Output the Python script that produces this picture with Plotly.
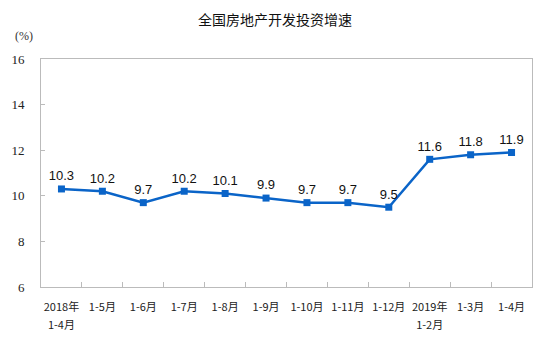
import plotly.graph_objects as go

categories = ["2018年 1-4月", "1-5月", "1-6月", "1-7月", "1-8月", "1-9月", "1-10月",
              "1-11月", "1-12月", "2019年 1-2月", "1-3月", "1-4月"]
label_line1 = ["2018年", "1-5月", "1-6月", "1-7月", "1-8月", "1-9月", "1-10月",
               "1-11月", "1-12月", "2019年", "1-3月", "1-4月"]
label_line2 = ["1-4月", "", "", "", "", "", "", "", "", "1-2月", "", ""]
values = [10.3, 10.2, 9.7, 10.2, 10.1, 9.9, 9.7, 9.7, 9.5, 11.6, 11.8, 11.9]
y_ticks = [6, 8, 10, 12, 14, 16]

n = len(categories)

fig = go.Figure()
fig.add_trace(go.Scatter(
    x=categories, y=values, mode="lines+markers+text",
    line=dict(color="#0a64c8", width=2.5),
    marker=dict(symbol="square", size=7, color="#0a64c8"),
    text=[f"{v:.1f}" for v in values], textposition="top center",
    textfont=dict(family="Liberation Sans, Arial", size=13, color="#111"),
    cliponaxis=False, hoverinfo="skip",
))
# invisible companion trace so the second-line label axis is drawn
fig.add_trace(go.Scatter(
    x=list(range(n)), y=values, xaxis="x2", yaxis="y",
    mode="markers", marker=dict(opacity=0), hoverinfo="skip", showlegend=False,
))

tick_font = dict(family="Noto Sans CJK SC", size=11, color="#222")

fig.update_layout(
    width=550, height=364,
    margin=dict(l=41, r=18, t=59, b=77, autoexpand=False),
    paper_bgcolor="white", plot_bgcolor="white",
    showlegend=False,
    title=dict(text="全国房地产开发投资增速", x=0.5, xanchor="center", y=0.945, yanchor="middle",
               font=dict(family="Noto Sans CJK SC", size=14, color="#111")),
    annotations=[dict(text="(%)", xref="paper", yref="paper", x=-0.0346, y=1.10,
                      xanchor="center", yanchor="middle", showarrow=False,
                      font=dict(family="Liberation Serif", size=12, color="#333"))],
    xaxis=dict(
        type="category", range=[-0.5, n - 0.5],
        tickson="boundaries", ticks="inside", ticklen=5,
        tickvals=categories, ticktext=label_line1,
        tickcolor="#bbbbbb", showline=True, linecolor="#bbbbbb", linewidth=1, mirror=True,
        showgrid=False, tickfont=tick_font,
        tickangle=0, automargin=False, ticklabelstandoff=10,
    ),
    xaxis2=dict(
        overlaying="x", side="bottom", anchor="y", type="linear",
        range=[-0.5, n - 0.5],
        tickvals=list(range(n)), ticktext=label_line2,
        showline=False, showgrid=False, zeroline=False, ticks="",
        tickfont=tick_font, tickangle=0, automargin=False, ticklabelstandoff=30,
    ),
    yaxis=dict(
        range=[6, 16], tickvals=y_ticks, showgrid=False, zeroline=False,
        showline=True, linecolor="#bbbbbb", linewidth=1, mirror=True,
        ticks="inside", ticklen=4, tickcolor="#bbbbbb",
        ticklabelstandoff=13, automargin=False,
        tickfont=dict(family="Liberation Serif", size=13, color="#222"),
    ),
)
fig.write_html("out.html", config={"displayModeBar": False},
               post_script="document.body.style.margin='0';document.body.style.padding='0';")
